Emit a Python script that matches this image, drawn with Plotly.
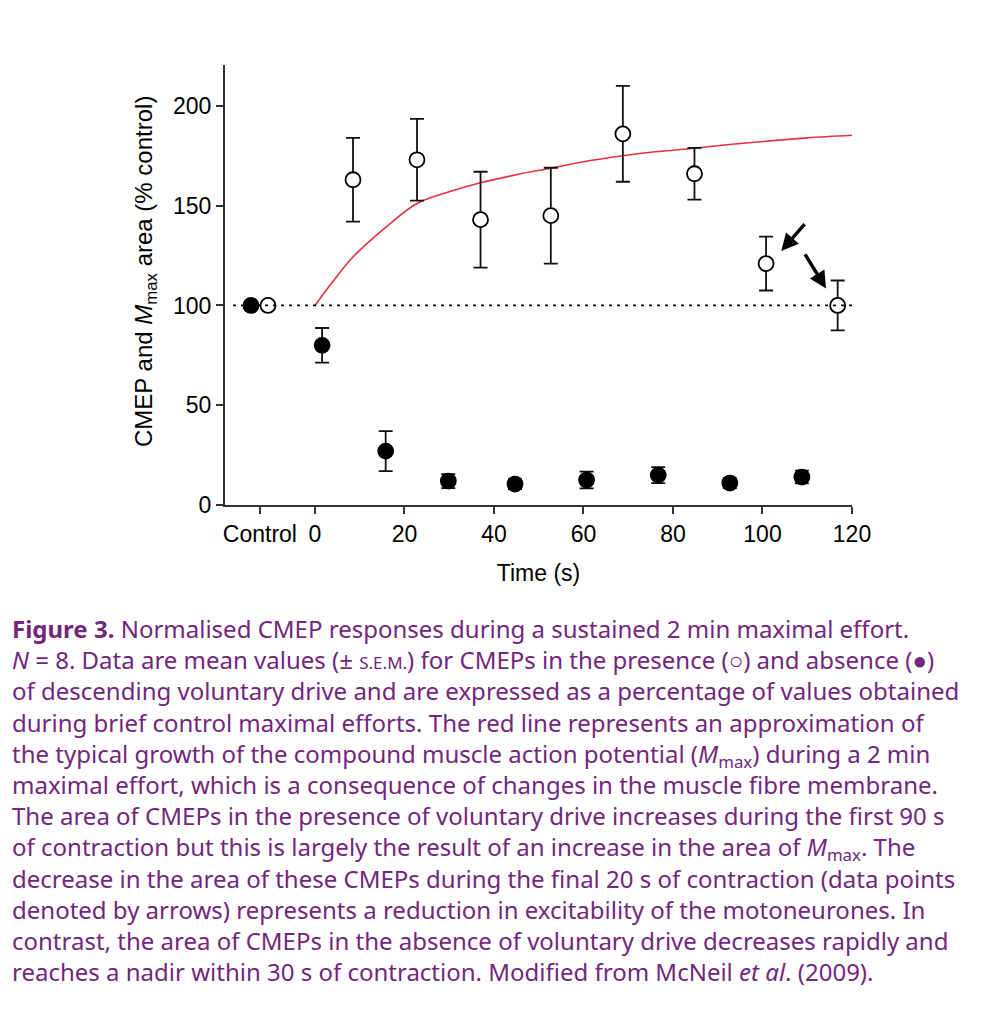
import plotly.graph_objects as go

# ---------------- data ----------------
control_x_open = [-10.5]
control_x_fill = [-14.3]
control_val = [100]

open_t = [8.5, 22.8, 37.0, 52.7, 68.8, 84.8, 100.8, 116.8]
open_v = [163, 173, 143, 145, 186, 166, 121, 100]
open_e = [21, 20.5, 24, 24, 24, 13, 13.5, 12.5]

fill_t = [1.6, 15.8, 29.8, 44.7, 60.7, 76.7, 92.7, 108.8]
fill_v = [80, 27, 12, 10.5, 12.5, 15, 11, 14]
fill_e = [8.7, 10, 3.5, 2.5, 4.2, 4, 2.5, 3.2]

mmax_t = [0, 4, 8.6, 16, 22.7, 30, 37, 45, 52.7, 60, 68.8, 76, 84.8, 92, 100.9, 110, 120]
mmax_v = [100, 112, 124.5, 139.5, 151, 157, 161.5, 165.5, 168.8, 172, 175, 177, 178.8, 180.5, 182.3, 184, 185.3]

xticks = [-12.3, 0, 20, 40, 60, 80, 100, 120]
xticklabels = ["Control", "0", "20", "40", "60", "80", "100", "120"]
yticks = [0, 50, 100, 150, 200]

caption_lines = [
    "<b>Figure 3.</b> Normalised CMEP responses during a sustained 2 min maximal effort.",
    "<i>N</i> = 8. Data are mean values (± <span style='font-size:17px'>S.E.M.</span>) for CMEPs in the presence (○) and absence (●)",
    "of descending voluntary drive and are expressed as a percentage of values obtained",
    "during brief control maximal efforts. The red line represents an approximation of",
    "the typical growth of the compound muscle action potential (<i>M</i><sub>max</sub>) during a 2 min",
    "maximal effort, which is a consequence of changes in the muscle fibre membrane.",
    "The area of CMEPs in the presence of voluntary drive increases during the first 90 s",
    "of contraction but this is largely the result of an increase in the area of <i>M</i><sub>max</sub>. The",
    "decrease in the area of these CMEPs during the final 20 s of contraction (data points",
    "denoted by arrows) represents a reduction in excitability of the motoneurones. In",
    "contrast, the area of CMEPs in the absence of voluntary drive decreases rapidly and",
    "reaches a nadir within 30 s of contraction. Modified from McNeil <i>et al</i>. (2009).",
]

# arrows: (tail_x, tail_y, head_x, head_y) in data units
arrows = [(109.7, 141.5, 104.2, 127.3), (109.3, 126.4, 114.2, 108.5)]

# ---------------- figure ----------------
OFF = 8  # page body offset
W, H = 981, 1026
ML, MR, MT, MB = 225 - OFF, 981 - 852 + OFF, 65 - OFF, 1026 - 505 + OFF
plot_h = H - MT - MB
plot_w = W - ML - MR

def py(p):  # screen pixel y -> paper y
    return (505 - p) / plot_h

def px(p):  # screen pixel x -> paper x
    return (p - 225) / plot_w

fig = go.Figure()

# dotted reference line at 100
fig.add_shape(type="line", xref="x", yref="y", x0=-18.3, x1=121.5, y0=100, y1=100,
              line=dict(color="black", width=1.8, dash="3px,5px"))

# red Mmax curve
fig.add_trace(go.Scatter(x=mmax_t, y=mmax_v, mode="lines",
                         line=dict(color="#e8303a", width=1.6, shape="spline"),
                         hoverinfo="skip", showlegend=False))

err_style = dict(type="data", thickness=1.8, width=7, color="#111")

fig.add_trace(go.Scatter(x=open_t, y=open_v, mode="markers",
                         error_y=dict(array=open_e, **err_style),
                         marker=dict(size=15, color="white", line=dict(color="black", width=1.8)),
                         showlegend=False))
fig.add_trace(go.Scatter(x=fill_t, y=fill_v, mode="markers",
                         error_y=dict(array=fill_e, **err_style),
                         marker=dict(size=15, color="black", line=dict(color="black", width=1.8)),
                         showlegend=False))
fig.add_trace(go.Scatter(x=control_x_fill, y=control_val, mode="markers",
                         marker=dict(size=15, color="black", line=dict(color="black", width=1.8)),
                         showlegend=False))
fig.add_trace(go.Scatter(x=control_x_open, y=control_val, mode="markers",
                         marker=dict(size=15, color="white", line=dict(color="black", width=1.8)),
                         showlegend=False))

for tx, ty, hx, hy in arrows:
    fig.add_annotation(x=hx, y=hy, ax=tx, ay=ty, xref="x", yref="y", axref="x", ayref="y",
                       showarrow=True, arrowhead=2, arrowsize=1.0, arrowwidth=3.4,
                       arrowcolor="black", text="", standoff=0)

# caption (one multi-line text block)
cap_first, cap_step = 633, 30.4
cap_mid = cap_first + (len(caption_lines) - 1) * cap_step / 2
fig.add_annotation(x=px(10), y=py(cap_mid), xref="paper", yref="paper",
                   xanchor="left", yanchor="middle", showarrow=False, align="left",
                   text="<br>".join(caption_lines),
                   font=dict(family="Noto Sans", size=24, color="#72267d"))

# y-axis title
fig.add_annotation(x=px(145), y=py(272), xref="paper", yref="paper", showarrow=False,
                   textangle=-90, xanchor="center", yanchor="middle",
                   text="CMEP and <i>M</i><sub>max</sub> area (% control)",
                   font=dict(family="Liberation Sans", size=24, color="black"))

fig.update_layout(
    width=W, height=H,
    margin=dict(l=ML, r=MR, t=MT, b=MB, pad=0),
    paper_bgcolor="white", plot_bgcolor="white",
    font=dict(family="Liberation Sans", size=23, color="black"),
    xaxis=dict(range=[-20.1, 120], tickvals=xticks, ticktext=xticklabels,
               showline=True, linecolor="#333", linewidth=2, ticks="outside",
               ticklen=7, tickwidth=2, tickcolor="#333", showgrid=False, zeroline=False,
               title=dict(text="Time (s)", font=dict(size=23), standoff=19)),
    yaxis=dict(range=[0, 220.5], tickvals=yticks, showline=True, linecolor="#333",
               linewidth=2, ticks="outside", ticklen=7, tickwidth=2, tickcolor="#333",
               showgrid=False, zeroline=False),
)

fig.write_html("out.html")
